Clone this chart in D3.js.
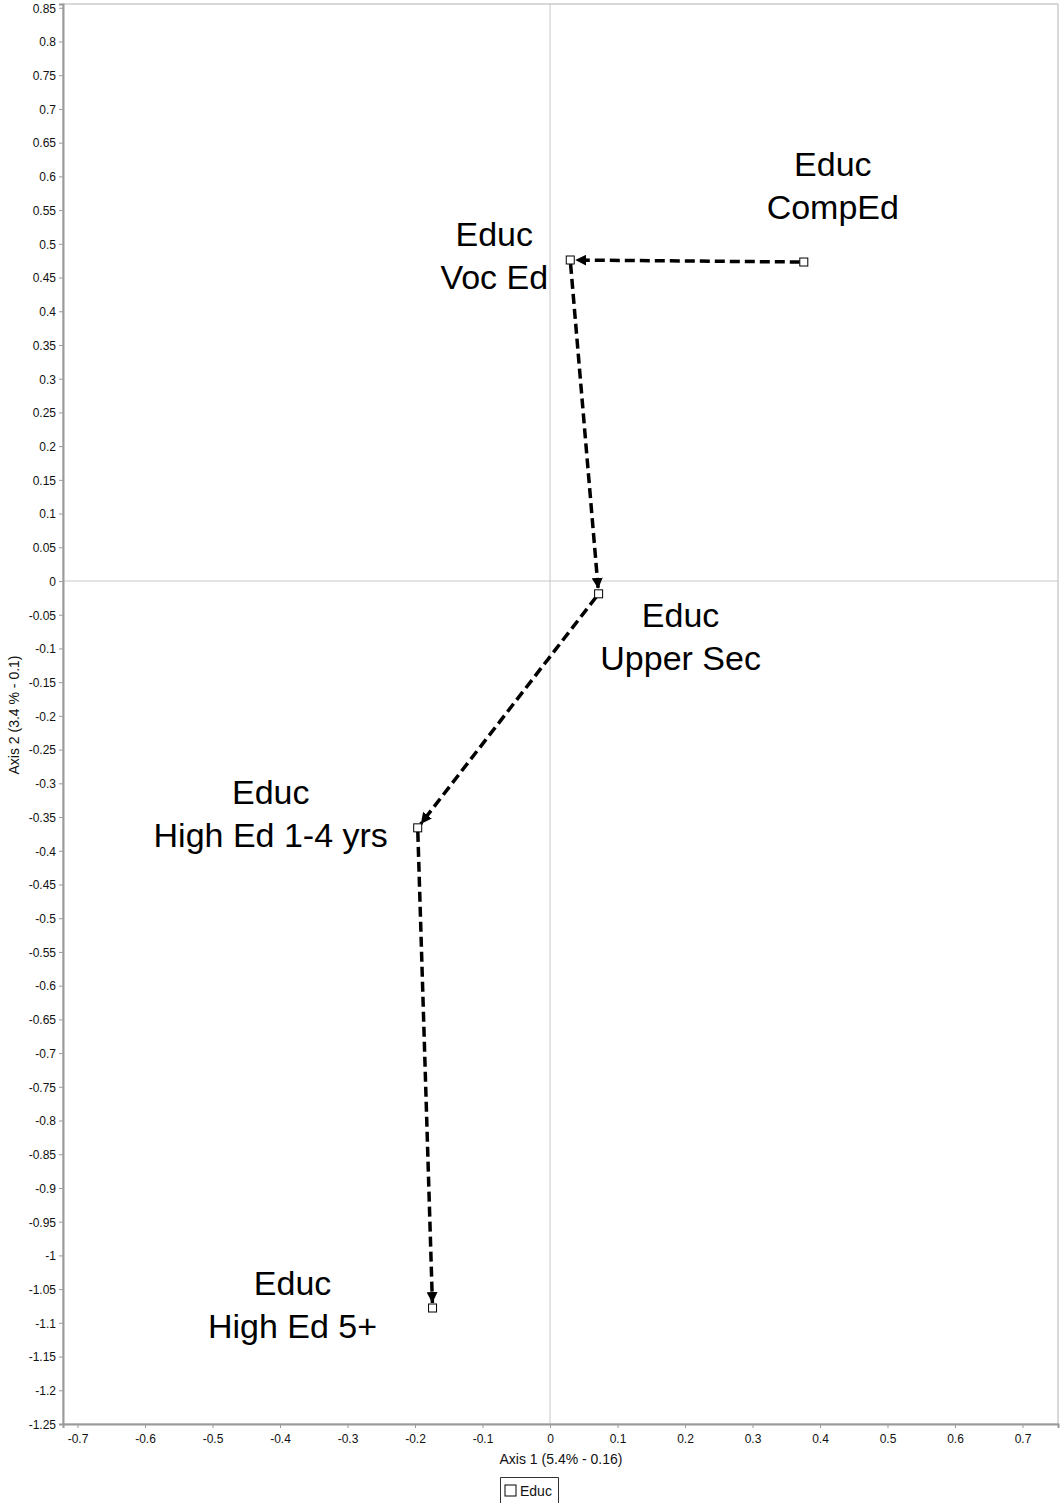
<!DOCTYPE html>
<html>
<head>
<meta charset="utf-8">
<script src="https://cdn.jsdelivr.net/npm/d3@7"></script>
<style>
  html, body { margin: 0; padding: 0; background: #fff; }
  svg { display: block; font-family: "Liberation Sans", Arial, sans-serif; }
</style>
</head>
<body>
<svg id="chart" width="1061" height="1503"></svg>
<script>
// Category points (education levels) on the first two axes
const categories = ["CompEd", "Voc Ed", "Upper Sec", "High Ed 1-4 yrs", "High Ed 5+"];
const axis1 = [0.376, 0.030, 0.072, -0.196, -0.174];
const axis2 = [0.473, 0.476, -0.019, -0.366, -1.078];
const seriesName = "Educ";

// Tick values
const xTicks = [-0.7, -0.6, -0.5, -0.4, -0.3, -0.2, -0.1, 0, 0.1, 0.2, 0.3, 0.4, 0.5, 0.6, 0.7];
const yTicks = d3.range(-125, 86, 5).map(v => v / 100);

const xTitle = "Axis 1 (5.4% - 0.16)";
const yTitle = "Axis 2 (3.4 % - 0.1)";

// Label placement around each point (pixel offsets of the two-line label centre)
const labelOffsets = [[29, -77], [-76, -5], [82, 42], [-147, -15], [-140, -4]];

const svg = d3.select("#chart");
const plot = { left: 63, right: 1058, top: 4, bottom: 1424 };

const x = d3.scaleLinear().domain([-0.7215, 0.7526]).range([plot.left, plot.right]);
const y = d3.scaleLinear().domain([-1.25, 0.8556]).range([plot.bottom, plot.top]);

const fmt = v => String(+v.toFixed(2));

// frame
svg.append("rect")
  .attr("x", plot.left).attr("y", plot.top)
  .attr("width", plot.right - plot.left).attr("height", plot.bottom - plot.top)
  .attr("fill", "none").attr("stroke", "#b4b4b4").attr("stroke-width", 1);

// zero reference lines
svg.append("line")
  .attr("x1", x(0)).attr("x2", x(0)).attr("y1", plot.top).attr("y2", plot.bottom)
  .attr("stroke", "#c8c8c8").attr("stroke-width", 1);
svg.append("line")
  .attr("x1", plot.left).attr("x2", plot.right).attr("y1", y(0)).attr("y2", y(0))
  .attr("stroke", "#c8c8c8").attr("stroke-width", 1);

// axes
const xAxis = svg.append("g")
  .attr("transform", `translate(0,${plot.bottom})`)
  .call(d3.axisBottom(x).tickValues(xTicks).tickFormat(fmt).tickSize(4).tickPadding(6));
const yAxis = svg.append("g")
  .attr("transform", `translate(${plot.left},0)`)
  .call(d3.axisLeft(y).tickValues(yTicks).tickFormat(fmt).tickSize(4).tickPadding(3));

[xAxis, yAxis].forEach(g => {
  g.select(".domain").attr("stroke", "#9a9a9a").attr("stroke-width", 2);
  g.selectAll(".tick line").attr("stroke", "#9a9a9a");
  g.selectAll(".tick text").attr("fill", "#111").attr("font-size", 12)
    .attr("font-family", "'Liberation Sans', Arial, sans-serif");
});
yAxis.selectAll(".tick text").attr("dy", "0.36em");

// axis titles
svg.append("text")
  .attr("x", 561).attr("y", 1464)
  .attr("text-anchor", "middle").attr("font-size", 14).attr("fill", "#111")
  .text(xTitle);
svg.append("text")
  .attr("transform", `translate(19,${715}) rotate(-90)`)
  .attr("text-anchor", "middle").attr("font-size", 14).attr("fill", "#111")
  .text(yTitle);

// arrowhead
svg.append("defs").append("marker")
  .attr("id", "arrow")
  .attr("viewBox", "0 0 10 10")
  .attr("refX", 10).attr("refY", 5)
  .attr("markerWidth", 11).attr("markerHeight", 11)
  .attr("markerUnits", "userSpaceOnUse")
  .attr("orient", "auto")
  .append("path").attr("d", "M0,0 L10,5 L0,10 Z").attr("fill", "#000");

// path between consecutive categories
const pts = categories.map((c, i) => ({ name: c, px: x(axis1[i]), py: y(axis2[i]) }));
for (let i = 0; i < pts.length - 1; i++) {
  const a = pts[i], b = pts[i + 1];
  const dx = b.px - a.px, dy = b.py - a.py;
  const len = Math.hypot(dx, dy);
  const ux = dx / len, uy = dy / len;
  const s = 4, e = 5;
  svg.append("line")
    .attr("x1", a.px + ux * s).attr("y1", a.py + uy * s)
    .attr("x2", b.px - ux * e).attr("y2", b.py - uy * e)
    .attr("stroke", "#000").attr("stroke-width", 3.5)
    .attr("stroke-dasharray", "10,5")
    .attr("marker-end", "url(#arrow)");
}

// point markers
svg.selectAll("rect.pt").data(pts).join("rect")
  .attr("class", "pt")
  .attr("x", d => d.px - 4).attr("y", d => d.py - 4)
  .attr("width", 8).attr("height", 8)
  .attr("fill", "#fff").attr("stroke", "#000").attr("stroke-width", 1);

// category labels
pts.forEach((p, i) => {
  const [ox, oy] = labelOffsets[i];
  const t = svg.append("text")
    .attr("text-anchor", "middle").attr("font-size", 34).attr("fill", "#000");
  t.append("tspan").attr("x", p.px + ox).attr("y", p.py + oy - 9).text(seriesName);
  t.append("tspan").attr("x", p.px + ox).attr("y", p.py + oy + 34).text(p.name);
});

// legend
const lg = svg.append("g");
lg.append("path")
  .attr("d", "M500.5,1503 V1477.5 H558.5 V1503")
  .attr("fill", "none").attr("stroke", "#333").attr("stroke-width", 1);
lg.append("rect")
  .attr("x", 505).attr("y", 1485).attr("width", 11).attr("height", 11)
  .attr("fill", "#fff").attr("stroke", "#000");
lg.append("text")
  .attr("x", 520).attr("y", 1496).attr("font-size", 14).attr("fill", "#111")
  .text(seriesName);
</script>
</body>
</html>
